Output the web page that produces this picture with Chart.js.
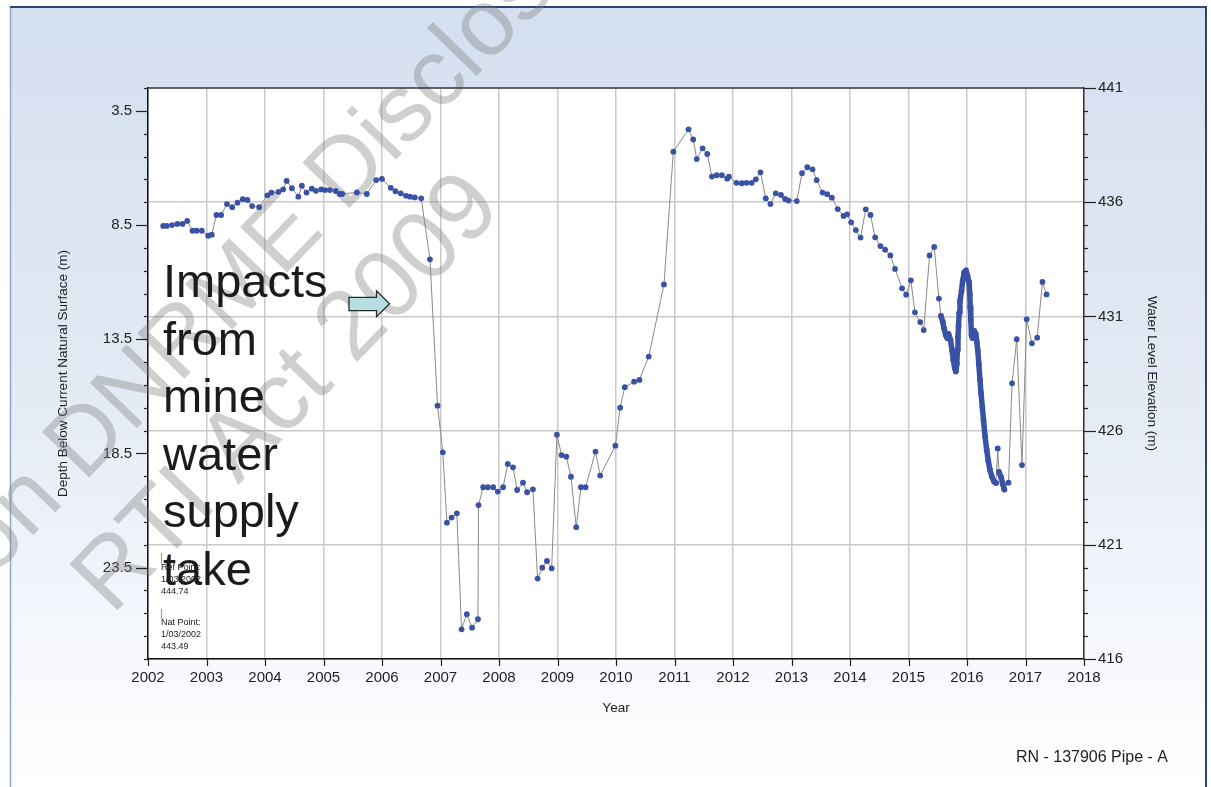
<!DOCTYPE html>
<html>
<head>
<meta charset="utf-8">
<script src="https://cdn.jsdelivr.net/npm/chart.js@4.4.1/dist/chart.umd.min.js"></script>
<style>
  html, body { margin: 0; padding: 0; background: #ffffff; }
  canvas { display: block; }
</style>
</head>
<body>
<canvas id="chart" width="1211" height="787"></canvas>
<script>
// Manual dip readings: decimal year and depth below natural surface (m)
const manualDates = [
  2002.26, 2002.32, 2002.41, 2002.50, 2002.59, 2002.67, 2002.76, 2002.83, 2002.92, 2003.03,
  2003.09, 2003.17, 2003.25, 2003.35, 2003.44, 2003.53, 2003.62, 2003.70, 2003.78, 2003.90,
  2004.04, 2004.11, 2004.23, 2004.31, 2004.37, 2004.46, 2004.57, 2004.63, 2004.71, 2004.80, 2004.87, 2004.96,
  2005.03, 2005.11, 2005.21, 2005.28, 2005.32, 2005.57, 2005.74, 2005.90,
  2006.00, 2006.15, 2006.23, 2006.32, 2006.41, 2006.48, 2006.56, 2006.67, 2006.82, 2006.95,
  2007.04, 2007.11, 2007.19, 2007.28, 2007.36, 2007.45, 2007.54, 2007.64, 2007.65, 2007.73, 2007.81, 2007.90, 2007.98,
  2008.07, 2008.15, 2008.24, 2008.31, 2008.41, 2008.48, 2008.58, 2008.66, 2008.74, 2008.82, 2008.90, 2008.99,
  2009.07, 2009.15, 2009.23, 2009.32, 2009.40, 2009.48, 2009.65, 2009.73, 2009.99,
  2010.07, 2010.15, 2010.31, 2010.40, 2010.56, 2010.82, 2010.98,
  2011.24, 2011.32, 2011.38, 2011.48, 2011.56, 2011.64, 2011.72, 2011.81, 2011.90, 2011.93,
  2012.06, 2012.15, 2012.23, 2012.32, 2012.39, 2012.47, 2012.56, 2012.64, 2012.73, 2012.82, 2012.89, 2012.95,
  2013.09, 2013.18, 2013.27, 2013.36, 2013.43, 2013.53, 2013.61, 2013.69, 2013.79, 2013.89, 2013.95,
  2014.02, 2014.10, 2014.18, 2014.27, 2014.35, 2014.43, 2014.52, 2014.60, 2014.69, 2014.77, 2014.89, 2014.96,
  2015.04, 2015.11, 2015.20, 2015.26, 2015.36, 2015.44, 2015.52,
  2016.525, 2016.71, 2016.77, 2016.85, 2016.94,
  2017.02, 2017.11, 2017.20, 2017.29, 2017.36
];
const manualDepths = [
  8.54, 8.54, 8.50, 8.45, 8.45, 8.32, 8.75, 8.75, 8.75, 8.97,
  8.92, 8.06, 8.06, 7.58, 7.72, 7.52, 7.37, 7.40, 7.67, 7.72,
  7.20, 7.08, 7.05, 6.94, 6.57, 6.89, 7.26, 6.78, 7.08, 6.91, 7.00, 6.94,
  6.97, 6.97, 7.01, 7.14, 7.14, 7.07, 7.14, 6.53,
  6.48, 6.87, 7.02, 7.11, 7.22, 7.26, 7.29, 7.33, 10.00, 16.41,
  18.45, 21.53, 21.31, 21.12, 26.20, 25.54, 26.13, 25.76, 20.76, 19.98, 19.98, 19.98, 20.17,
  19.98, 18.96, 19.11, 20.10, 19.78, 20.20, 20.07, 23.98, 23.50, 23.21, 23.53, 17.68,
  18.57, 18.64, 19.52, 21.73, 19.98, 19.98, 18.42, 19.47, 18.16,
  16.50, 15.60, 15.36, 15.28, 14.26, 11.10, 5.29,
  4.31, 4.75, 5.61, 5.14, 5.39, 6.38, 6.32, 6.32, 6.47, 6.38,
  6.65, 6.67, 6.65, 6.65, 6.50, 6.19, 7.33, 7.58, 7.11, 7.18, 7.36, 7.43,
  7.45, 6.23, 5.97, 6.06, 6.53, 7.08, 7.15, 7.30, 7.80, 8.10, 8.03,
  8.38, 8.72, 9.05, 7.81, 8.06, 9.04, 9.42, 9.58, 9.83, 10.42, 11.27, 11.55,
  10.92, 12.32, 12.75, 13.10, 9.83, 9.46, 11.72,
  18.28, 19.78, 15.43, 13.50, 19.01,
  12.63, 13.68, 13.43, 10.99, 11.54
];

// Continuous logger record, mid 2015 to late 2016
const loggerDates = [
  2015.556, 2015.585, 2015.607, 2015.636, 2015.663, 2015.684, 2015.718, 2015.744, 2015.766, 2015.790,
  2015.809, 2015.826, 2015.836, 2015.846, 2015.855, 2015.867, 2015.880, 2015.906, 2015.926, 2015.954,
  2015.983, 2016.009, 2016.034, 2016.048, 2016.055, 2016.065, 2016.077, 2016.094, 2016.125, 2016.150,
  2016.168, 2016.185, 2016.202, 2016.222, 2016.239, 2016.262, 2016.282, 2016.308, 2016.337, 2016.364,
  2016.393, 2016.424, 2016.462, 2016.496, 2016.547, 2016.581, 2016.612, 2016.638
];
const loggerDepths = [
  12.48, 12.73, 13.02, 13.31, 13.45, 13.27, 13.53, 13.97, 14.41, 14.76,
  14.91, 14.58, 13.97, 13.40, 12.92, 12.35, 11.83, 11.39, 10.95, 10.56,
  10.49, 10.73, 10.99, 11.52, 12.09, 12.66, 13.31, 13.45, 13.14, 13.27,
  13.62, 14.01, 14.58, 15.28, 15.85, 16.47, 17.04, 17.74, 18.35, 18.83,
  19.22, 19.51, 19.73, 19.79, 19.31, 19.53, 19.84, 20.08
];

// Axis ticks
const depthTicks = [3.5, 8.5, 13.5, 18.5, 23.5];
const elevationTicks = [416, 421, 426, 431, 436, 441];
const yearRange = [2002, 2018];

// Annotation text
const noteLines = ['Impacts', 'from', 'mine', 'water', 'supply', 'take'];
const refPointLines = ['Ref Point:', '1/03/2002', '444.74'];
const natPointLines = ['Nat Point:', '1/03/2002', '443.49'];
const boreLabel = 'RN - 137906 Pipe - A';
const watermarkLines = ['on DNRME Disclosure Log', 'RTI Act 2009'];

const BLUE = '#3a52a6';
const LINE_GREY = '#8a8a8a';
const GRID = '#c9c9c9';
const FONT = "'Liberation Sans', Arial, sans-serif";

Chart.defaults.font.family = FONT;
Chart.defaults.color = '#222';

const points = manualDates.map((d, i) => ({ x: d, y: manualDepths[i], logger: false }))
  .concat(loggerDates.map((d, i) => ({ x: d, y: loggerDepths[i], logger: true })))
  .sort((a, b) => a.x - b.x);

const isLoggerSegment = ctx =>
  points[ctx.p0DataIndex].logger && points[ctx.p1DataIndex].logger;

function seg(ctx, x1, y1, x2, y2) {
  ctx.beginPath();
  ctx.moveTo(x1, y1);
  ctx.lineTo(x2, y2);
  ctx.stroke();
}

function stamp(ctx, text, x, y, size) {
  ctx.save();
  ctx.fillStyle = 'rgba(125,125,125,0.37)';
  ctx.font = size + 'px ' + FONT;
  ctx.textBaseline = 'alphabetic';
  ctx.translate(x, y);
  ctx.rotate(-46 * Math.PI / 180);
  ctx.fillText(text, 0, 0);
  ctx.restore();
}

const decorations = {
  id: 'decorations',
  beforeDraw(chart) {
    const { ctx, chartArea: a, width, height } = chart;
    ctx.save();
    ctx.fillStyle = '#ffffff';
    ctx.fillRect(0, 0, width, height);
    const g = ctx.createLinearGradient(0, 6, 0, height);
    g.addColorStop(0, '#d4dff0');
    g.addColorStop(0.45, '#e2e9f4');
    g.addColorStop(0.85, '#f7f9fd');
    g.addColorStop(1, '#ffffff');
    ctx.fillStyle = g;
    ctx.fillRect(10, 6, 1197, height - 6);
    ctx.strokeStyle = '#90a6c8';
    ctx.lineWidth = 1.5;
    seg(ctx, 10.5, 6, 10.5, height);
    ctx.strokeStyle = '#2b4672';
    ctx.lineWidth = 2;
    seg(ctx, 10, 7, 1207, 7);
    seg(ctx, 1206, 6, 1206, height);
    ctx.fillStyle = '#ffffff';
    ctx.fillRect(a.left, a.top, a.right - a.left, a.bottom - a.top);
    ctx.restore();
  },
  beforeDatasetsDraw(chart) {
    const { ctx } = chart;
    stamp(ctx, watermarkLines[0], -8, 578, 95);
    stamp(ctx, watermarkLines[1], 112, 616, 97);
  },
  afterDraw(chart) {
    const { ctx, chartArea: a, scales } = chart;
    ctx.save();
    // tick marks
    ctx.strokeStyle = '#222';
    ctx.lineWidth = 1.2;
    for (let v = 2.5; v <= 27.5001; v += 1) {
      const py = Math.round(scales.y.getPixelForValue(v)) + 0.5;
      const major = depthTicks.some(m => Math.abs(m - v) < 1e-6);
      seg(ctx, a.left - (major ? 12 : 4), py, a.left, py);
    }
    for (let e = elevationTicks[0]; e <= elevationTicks[elevationTicks.length - 1]; e++) {
      const py = Math.round(scales.y2.getPixelForValue(e)) + 0.5;
      const major = elevationTicks.includes(e);
      seg(ctx, a.right, py, a.right + (major ? 12 : 4), py);
    }
    for (let yr = yearRange[0]; yr <= yearRange[1]; yr++) {
      const px = Math.round(scales.x.getPixelForValue(yr)) + 0.5;
      seg(ctx, px, a.bottom, px, a.bottom + 7);
    }
    ctx.strokeStyle = '#3a3a3a';
    ctx.lineWidth = 1.5;
    seg(ctx, a.left, a.top, a.right, a.top);

    // reference point notes
    const rx = a.left + 13;
    ctx.strokeStyle = '#d89a45';
    ctx.lineWidth = 1.2;
    seg(ctx, rx + 0.5, a.top + 465, rx + 0.5, a.top + 476);
    seg(ctx, rx + 0.5, a.top + 521, rx + 0.5, a.top + 531);
    ctx.fillStyle = '#222';
    ctx.font = '9px ' + FONT;
    ctx.textBaseline = 'middle';
    refPointLines.forEach((t, i) => ctx.fillText(t, rx, a.top + 480 + i * 12));
    natPointLines.forEach((t, i) => ctx.fillText(t, rx, a.top + 535 + i * 12));

    // arrow
    const ax = a.left + 201, ay = a.top + 202;
    ctx.beginPath();
    ctx.moveTo(ax, ay + 7.3);
    ctx.lineTo(ax + 27.5, ay + 7.3);
    ctx.lineTo(ax + 27.5, ay + 0.7);
    ctx.lineTo(ax + 40.5, ay + 13.7);
    ctx.lineTo(ax + 27.5, ay + 26.7);
    ctx.lineTo(ax + 27.5, ay + 20.7);
    ctx.lineTo(ax, ay + 20.7);
    ctx.closePath();
    ctx.fillStyle = '#b6dde1';
    ctx.fill();
    ctx.strokeStyle = '#2a2a2a';
    ctx.lineWidth = 1.3;
    ctx.stroke();

    // big note
    ctx.fillStyle = '#1b1b1b';
    ctx.font = '47px ' + FONT;
    ctx.textBaseline = 'alphabetic';
    noteLines.forEach((t, i) => ctx.fillText(t, a.left + 15, a.top + 209 + i * 57.6));

    // bore label
    ctx.font = '16px ' + FONT;
    ctx.textAlign = 'right';
    ctx.textBaseline = 'middle';
    ctx.fillStyle = '#222';
    ctx.fillText(boreLabel, 1168, 758);
    ctx.restore();
  }
};

new Chart(document.getElementById('chart'), {
  type: 'line',
  data: {
    datasets: [{
      data: points,
      yAxisID: 'y',
      borderColor: LINE_GREY,
      borderWidth: 1,
      borderCapStyle: 'round',
      borderJoinStyle: 'round',
      pointRadius: 2.9,
      pointBorderWidth: 0,
      pointBackgroundColor: BLUE,
      tension: 0,
      segment: {
        borderColor: ctx => isLoggerSegment(ctx) ? BLUE : LINE_GREY,
        borderWidth: ctx => isLoggerSegment(ctx) ? 5.5 : 1
      }
    }]
  },
  options: {
    responsive: false,
    animation: false,
    devicePixelRatio: 1,
    layout: { padding: { top: 88, left: 0, right: 0, bottom: 0 } },
    plugins: { legend: { display: false }, tooltip: { enabled: false } },
    events: [],
    scales: {
      x: {
        type: 'linear',
        min: yearRange[0],
        max: yearRange[1],
        afterFit: s => { s.height = 128; },
        ticks: {
          stepSize: 1, autoSkip: false, maxRotation: 0, padding: 10,
          font: { size: 15 }, color: '#222',
          callback: v => String(v)
        },
        grid: { color: GRID, lineWidth: 1.5, drawTicks: false },
        border: { color: '#111', width: 1.5 },
        title: { display: true, text: 'Year', font: { size: 13.5 }, color: '#222', padding: { bottom: 71 } }
      },
      y: {
        type: 'linear',
        position: 'left',
        reverse: true,
        min: 2.5,
        max: 27.5,
        afterFit: s => { s.width = 148; },
        afterBuildTicks: s => { s.ticks = depthTicks.map(v => ({ value: v })); },
        ticks: { padding: 16, font: { size: 15 }, color: '#222', callback: v => v.toFixed(1) },
        grid: { display: false, drawTicks: false },
        border: { color: '#111', width: 1.5 },
        title: { display: true, text: 'Depth Below Current Natural Surface (m)', font: { size: 13.5 }, color: '#222', padding: { top: 55 } }
      },
      y2: {
        type: 'linear',
        position: 'right',
        min: elevationTicks[0],
        max: elevationTicks[elevationTicks.length - 1],
        afterFit: s => { s.width = 127; },
        ticks: { stepSize: 5, padding: 14, font: { size: 15 }, color: '#222', callback: v => String(v) },
        grid: { color: GRID, lineWidth: 1.5, drawTicks: false },
        border: { color: '#333', width: 1.5 },
        title: { display: true, text: 'Water Level Elevation (m)', font: { size: 13.5 }, color: '#222', padding: { top: 51 } }
      }
    }
  },
  plugins: [decorations]
});
</script>
</body>
</html>
